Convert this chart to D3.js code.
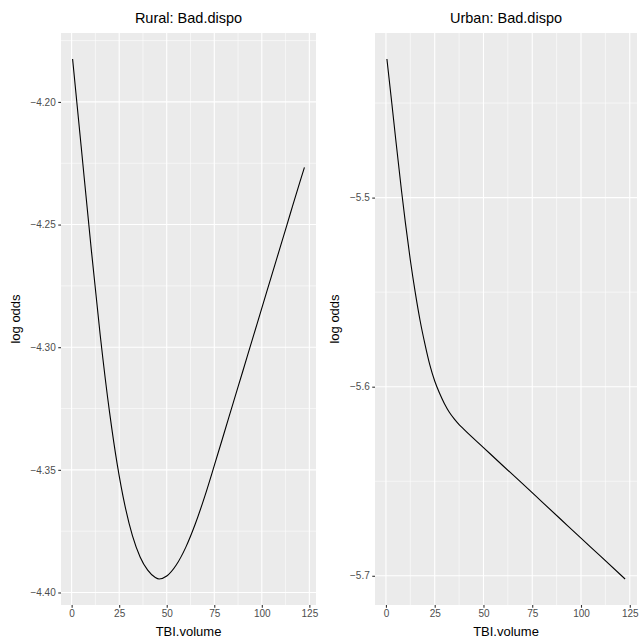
<!DOCTYPE html>
<html>
<head>
<meta charset="utf-8">
<script src="https://cdn.jsdelivr.net/npm/d3@7"></script>
<style>
  body { margin: 0; background: #fff; }
  text { font-family: "Liberation Sans", Arial, Helvetica, sans-serif; }
</style>
</head>
<body>
<svg id="chart" width="639" height="641"></svg>
<script>
// values
const xTicks = [0, 25, 50, 75, 100, 125];

const ruralX = [0.5, 5, 10, 15, 20, 24, 28, 32, 36, 40, 44, 46, 50, 55, 60, 65, 70, 75, 80, 85, 90, 95, 100, 105, 110, 115, 120, 122.4];
const ruralY = [-4.1825, -4.2181, -4.2576, -4.2949, -4.3269, -4.3479, -4.3645, -4.3769, -4.3855, -4.3909, -4.3939, -4.3945, -4.3933, -4.3888, -4.3816, -4.3721, -4.3608, -4.3483, -4.3355, -4.3226, -4.3098, -4.2969, -4.2841, -4.2712, -4.2584, -4.2455, -4.2327, -4.2267];
const ruralTicks = [-4.40, -4.35, -4.30, -4.25, -4.20];

const urbanX = [0.5, 3, 5, 8, 10, 12.5, 15, 17.5, 20, 22.5, 25, 27.5, 30, 32.5, 35, 37.5, 40, 50, 60, 70, 80, 90, 100, 110, 122.6];
const urbanY = [-5.4267, -5.450, -5.469, -5.4965, -5.5135, -5.533, -5.550, -5.565, -5.5775, -5.5885, -5.597, -5.6035, -5.609, -5.6135, -5.617, -5.620, -5.6226, -5.6322, -5.6418, -5.6513, -5.6609, -5.6705, -5.6801, -5.6896, -5.7017];
const urbanTicks = [-5.7, -5.6, -5.5];

const svg = d3.select("#chart");

// ggplot-like 5% padding on each side
function padded(ext) {
  const d = ext[1] - ext[0];
  return [ext[0] - d * 0.05, ext[1] + d * 0.05];
}

function mids(t) {
  const out = [];
  const step = t[1] - t[0];
  out.push(t[0] - step / 2);
  t.forEach(v => out.push(v + step / 2));
  return out;
}

function drawPanel(opts) {
  const { left, right, top, bottom, xs, ys, yTicks, yFmt, title, yLabelX } = opts;

  const x = d3.scaleLinear().domain(padded(d3.extent(xs))).range([left, right]);
  const y = d3.scaleLinear().domain(padded(d3.extent(ys))).range([bottom, top]);

  const g = svg.append("g");

  g.append("rect")
    .attr("x", left).attr("y", top)
    .attr("width", right - left).attr("height", bottom - top)
    .attr("fill", "#ebebeb");

  const xd = x.domain(), yd = y.domain();
  const inX = v => v >= xd[0] && v <= xd[1];
  const inY = v => v >= yd[0] && v <= yd[1];

  // minor grid
  g.selectAll(".xminor").data(mids(xTicks).filter(inX)).enter().append("line")
    .attr("x1", d => x(d)).attr("x2", d => x(d))
    .attr("y1", top).attr("y2", bottom)
    .attr("stroke", "#fff").attr("stroke-width", 0.55);
  g.selectAll(".yminor").data(mids(yTicks).filter(inY)).enter().append("line")
    .attr("y1", d => y(d)).attr("y2", d => y(d))
    .attr("x1", left).attr("x2", right)
    .attr("stroke", "#fff").attr("stroke-width", 0.55);

  // major grid
  g.selectAll(".xmajor").data(xTicks.filter(inX)).enter().append("line")
    .attr("x1", d => x(d)).attr("x2", d => x(d))
    .attr("y1", top).attr("y2", bottom)
    .attr("stroke", "#fff").attr("stroke-width", 1.1);
  g.selectAll(".ymajor").data(yTicks).enter().append("line")
    .attr("y1", d => y(d)).attr("y2", d => y(d))
    .attr("x1", left).attr("x2", right)
    .attr("stroke", "#fff").attr("stroke-width", 1.1);

  // the curve
  const pts = xs.map((v, i) => [v, ys[i]]);
  g.append("path")
    .datum(pts)
    .attr("fill", "none")
    .attr("stroke", "#000")
    .attr("stroke-width", 1.1)
    .attr("d", d3.line().x(d => x(d[0])).y(d => y(d[1])).curve(d3.curveMonotoneX));

  // axes
  const xAxis = d3.axisBottom(x).tickValues(xTicks).tickSize(2.75).tickPadding(2.5);
  const gx = g.append("g").attr("transform", `translate(0,${bottom})`).call(xAxis);
  const yAxis = d3.axisLeft(y).tickValues(yTicks).tickFormat(d3.format(yFmt)).tickSize(2.75).tickPadding(2.5);
  const gy = g.append("g").attr("transform", `translate(${left},0)`).call(yAxis);
  [gx, gy].forEach(a => {
    a.select(".domain").remove();
    a.selectAll(".tick line").attr("stroke", "#333").attr("stroke-width", 1.1);
    a.selectAll(".tick text").attr("fill", "#4d4d4d").style("font-size", "10px");
  });

  g.append("text")
    .attr("x", (left + right) / 2).attr("y", 23)
    .attr("text-anchor", "middle")
    .style("font-size", "14.5px")
    .text(title);

  g.append("text")
    .attr("x", (left + right) / 2).attr("y", 636)
    .attr("text-anchor", "middle")
    .style("font-size", "13px")
    .text("TBI.volume");

  g.append("text")
    .attr("transform", `translate(${yLabelX},${(top + bottom) / 2}) rotate(-90)`)
    .attr("text-anchor", "middle")
    .style("font-size", "13px")
    .text("log odds");
}

drawPanel({
  left: 61, right: 316, top: 33, bottom: 605,
  xs: ruralX, ys: ruralY, yTicks: ruralTicks, yFmt: ".2f",
  title: "Rural: Bad.dispo", yLabelX: 20
});

drawPanel({
  left: 375, right: 637, top: 33, bottom: 605,
  xs: urbanX, ys: urbanY, yTicks: urbanTicks, yFmt: ".1f",
  title: "Urban: Bad.dispo", yLabelX: 339
});
</script>
</body>
</html>
